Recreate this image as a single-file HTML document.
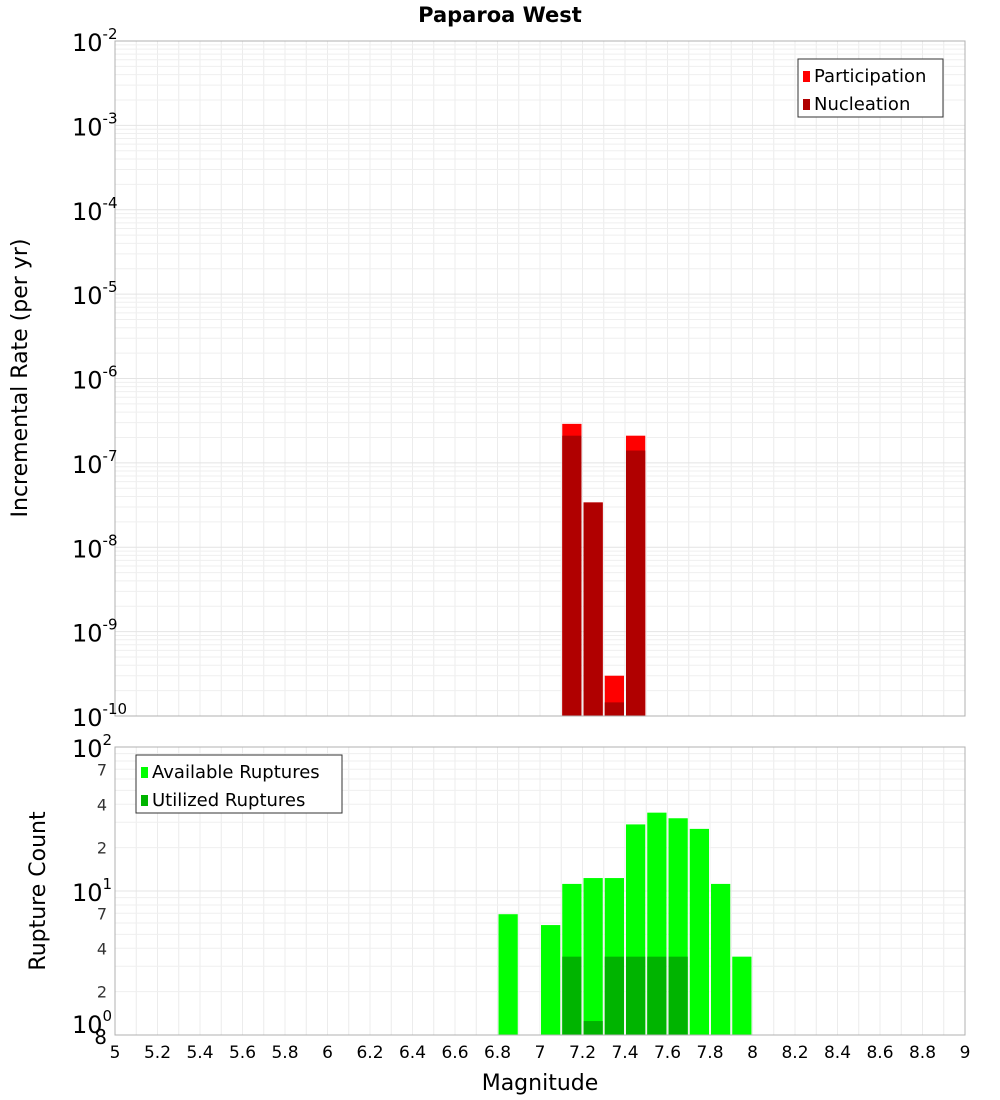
<!DOCTYPE html>
<html><head><meta charset="utf-8"><style>
body{margin:0;background:#fff;}
svg{display:block;font-family:"DejaVu Sans","Liberation Sans",sans-serif;}
</style></head><body>
<svg id="c" width="1000" height="1100" xmlns="http://www.w3.org/2000/svg">
<text x="500" y="22" text-anchor="middle" font-size="21" font-weight="bold">Paparoa West</text>
<g id="topPlot"></g>
<g id="botPlot"></g>
<text transform="translate(27,378) rotate(-90)" text-anchor="middle" font-size="22">Incremental Rate (per yr)</text>
<text transform="translate(45,891) rotate(-90)" text-anchor="middle" font-size="22">Rupture Count</text>
<text x="540" y="1090" text-anchor="middle" font-size="22">Magnitude</text>
</svg>
<script>
const binStarts=[7.1,7.2,7.3,7.4];
const participation=[2.9e-7,3.4e-8,3.0e-10,2.1e-7];
const nucleation=[2.1e-7,3.4e-8,1.45e-10,1.4e-7];
const countBins=[6.8,7.0,7.1,7.2,7.3,7.4,7.5,7.6,7.7,7.8,7.9];
const available=[6.9,5.8,11.2,12.3,12.3,29,35,32,27,11.2,3.5];
const utilizedBins=[7.1,7.2,7.3,7.4,7.5,7.6];
const utilized=[3.5,1.25,3.5,3.5,3.5,3.5];
const xTicks=[5,5.2,5.4,5.6,5.8,6,6.2,6.4,6.6,6.8,7,7.2,7.4,7.6,7.8,8,8.2,8.4,8.6,8.8,9];
const topExps=[-2,-3,-4,-5,-6,-7,-8,-9,-10];
const botMinor=[7,4,2];

const NS="http://www.w3.org/2000/svg";
const L=115,R=965,T1=41,B1=716,T2=747,B2=1035;
const X=m=>L+(m-5)/4*(R-L);
const Y1=v=>T1+(-2-Math.log10(v))/8*(B1-T1);
const Y2=v=>B2-(Math.log10(v))/2*(B2-T2);
function el(p,tag,a,txt){const e=document.createElementNS(NS,tag);for(const k in a)e.setAttribute(k,a[k]);if(txt!==undefined)e.textContent=txt;p.appendChild(e);return e;}
const topG=document.getElementById('topPlot'),botG=document.getElementById('botPlot'),svgEl=document.getElementById('c');

function grid(g,T,B,Yf,decs){
  for(let i=0;i<=40;i++){const m=5+i*0.1;el(g,'line',{x1:X(m),x2:X(m),y1:T,y2:B,stroke:'#ececec','stroke-width':1});}
  decs.forEach(d=>{for(let k=1;k<10;k++){const y=Yf(k*Math.pow(10,d));if(y>=T-0.5&&y<=B+0.5)el(g,'line',{x1:L,x2:R,y1:y,y2:y,stroke:k==1?'#e4e4e4':'#efefef','stroke-width':1});}});
}
grid(topG,T1,B1,Y1,[-10,-9,-8,-7,-6,-5,-4,-3,-2]);
grid(botG,T2,B2,Y2,[0,1,2]);

const bw=(R-L)/40;
binStarts.forEach((m,i)=>{
  let r=el(topG,'rect',{x:X(m)+1,y:Y1(participation[i]),width:bw-2,height:B1-Y1(participation[i]),fill:'#ff0000'});
  
  
  let n=el(topG,'rect',{x:X(m)+1,y:Y1(nucleation[i]),width:bw-2,height:B1-Y1(nucleation[i]),fill:'#b00000'});
  
  
});
countBins.forEach((m,i)=>{
  let r=el(botG,'rect',{x:X(m)+1,y:Y2(available[i]),width:bw-2,height:B2-Y2(available[i]),fill:'#00ff00'});
  
  
});
utilizedBins.forEach((m,i)=>{
  let r=el(botG,'rect',{x:X(m)+1,y:Y2(utilized[i]),width:bw-2,height:B2-Y2(utilized[i]),fill:'#00b400'});
  
  
});
el(topG,'rect',{x:L,y:T1,width:R-L,height:B1-T1,fill:'none',stroke:'#b0b0b0'});
el(botG,'rect',{x:L,y:T2,width:R-L,height:B2-T2,fill:'none',stroke:'#b0b0b0'});

topExps.forEach(e=>{
  const y=Y1(Math.pow(10,e));
  const t=el(svgEl,'text',{x:72,y:y+10,'font-size':24});
  
  
  el(t,'tspan',{x:72},'10');
  el(t,'tspan',{dy:-12,'font-size':15},String(e));
});
[2,1,0].forEach(e=>{
  const y=Y2(Math.pow(10,e));
  const t=el(svgEl,'text',{x:72,y:y+(e==0?-2:10),'font-size':24});
  
  
  el(t,'tspan',{x:72},'10');
  el(t,'tspan',{dy:-12,'font-size':15},String(e));
});
const eight=el(svgEl,'text',{x:L-8,y:B2+9,'font-size':20,'text-anchor':'end'},'8');


[1,0].forEach(d=>botMinor.forEach(k=>{
  const t=el(svgEl,'text',{x:L-8,y:Y2(k*Math.pow(10,d))+6,'font-size':16,'text-anchor':'end',fill:'#333'},String(k));
  
  
}));
xTicks.forEach(m=>{
  const t=el(svgEl,'text',{x:X(m),y:1058,'font-size':17,'text-anchor':'middle'},String(m));
  
  
});
function legend(x,y,w,items){
  const g=el(svgEl,'g',{});
  
  
  el(g,'rect',{x:x,y:y,width:w,height:58,fill:'#fff',stroke:'#333'});
  items.forEach((it,i)=>{
    el(g,'rect',{x:x+5,y:y+12+i*28,width:7,height:11,fill:it[1]});
    const t=el(g,'text',{x:x+16,y:y+23+i*28,'font-size':18},it[0]);
    
    
  });
}
legend(798,59,145,[['Participation','#ff0000'],['Nucleation','#b00000']]);
legend(136,755,206,[['Available Ruptures','#00ff00'],['Utilized Ruptures','#00b400']]);
</script>
</body></html>
